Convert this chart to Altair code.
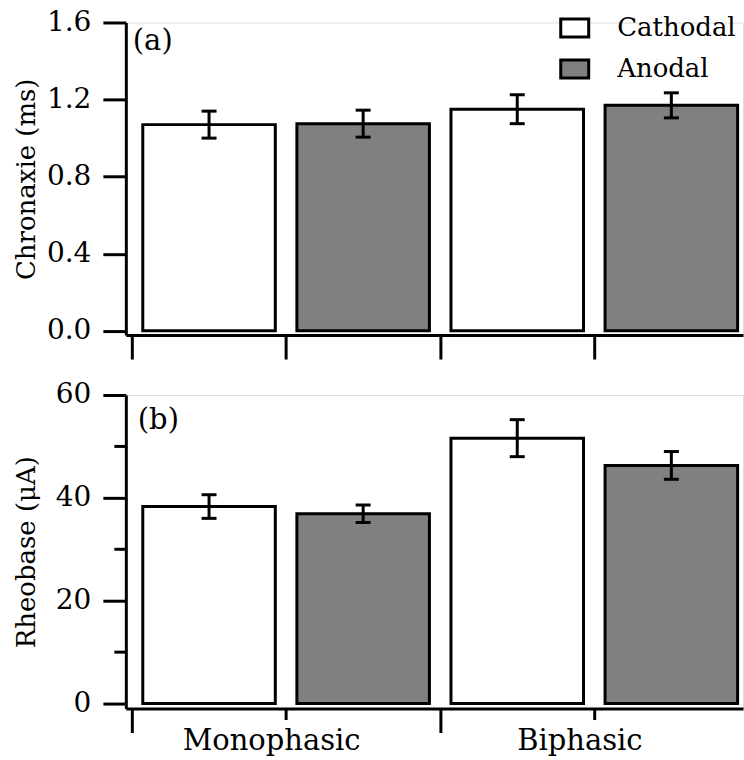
import altair as alt
import pandas as pd

# ---------------- data ----------------
groups = ["Monophasic", "Monophasic", "Biphasic", "Biphasic"]
polarity = ["Cathodal", "Anodal", "Cathodal", "Anodal"]
slot = [0, 1, 2, 3]
chronaxie_mean = [1.07, 1.075, 1.15, 1.17]
chronaxie_sem = [0.07, 0.07, 0.075, 0.065]
rheobase_mean = [38.3, 36.9, 51.6, 46.3]
rheobase_sem = [2.3, 1.7, 3.6, 2.7]
x_ticks = [0, 1, 2, 3]
chron_ticks = [0.0, 0.2, 0.4, 0.6, 0.8, 1.0, 1.2, 1.4, 1.6]
rheo_ticks = [0, 10, 20, 30, 40, 50, 60]
legend_order = ["Cathodal", "Anodal"]
legend_colors = ["white", "#808080"]

FONT = "DejaVu Serif"
GAP = 0.07


def make_df(mean, sem):
    return pd.DataFrame({
        "group": groups,
        "polarity": polarity,
        "x0": [s + GAP for s in slot],
        "x1": [s + 1 - GAP for s in slot],
        "xc": [s + 0.5 for s in slot],
        "mean": mean,
        "lo": [m - e for m, e in zip(mean, sem)],
        "hi": [m + e for m, e in zip(mean, sem)],
    })


xscale = alt.Scale(domain=[-0.04, 3.965], nice=False, zero=False)


def panel(df, ytitle, ydomain, yvalues, major_test, ylabel_expr, tag, tag_xy,
          bottom, show_legend, height, title_pad):
    yscale = alt.Scale(domain=ydomain, nice=False, zero=False)
    common = dict(domainColor="black", domainWidth=3, tickColor="black",
                  tickWidth=3, grid=False, labelColor="black", labelFont=FONT,
                  titleFont=FONT, titleColor="black")
    if bottom:
        xaxis = alt.Axis(values=x_ticks, title=None,
                         tickSize={"condition": {"test": "datum.value % 2 == 0", "value": 24}, "value": 11},
                         labelExpr="datum.value == 1 ? 'Monophasic' : (datum.value == 3 ? 'Biphasic' : '')",
                         labelFontSize=29, labelOffset=-15, labelPadding=7,
                         labelLimit=400, labelFlush=False, labelOverlap=False, **common)
    else:
        xaxis = alt.Axis(values=x_ticks, title=None, labels=False, tickSize=24, **common)
    yaxis = alt.Axis(values=yvalues, title=ytitle, titleFontSize=26,
                     titleFontWeight="normal", titlePadding=title_pad,
                     tickSize={"condition": {"test": major_test, "value": 23}, "value": 12},
                     labelExpr=ylabel_expr, labelFontSize=28, labelPadding=12,
                     labelFlush=False, labelOverlap=False, **common)

    if show_legend:
        legend = alt.Legend(title=None, orient="none", legendX=434, legendY=-10,
                            symbolType="M-1,-0.643H1V0.643H-1Z", symbolSize=784,
                            symbolStrokeColor="black", symbolStrokeWidth=3,
                            symbolOpacity=1, labelFont=FONT, labelFontSize=26,
                            labelColor="black", labelOffset=27, rowPadding=10,
                            padding=0, labelLimit=300)
    else:
        legend = None

    bars = alt.Chart(df).mark_bar(stroke="black", strokeWidth=3, strokeJoin="miter").encode(
        x=alt.X("x0:Q", scale=xscale, axis=xaxis),
        x2="x1:Q",
        y=alt.Y("mean:Q", scale=yscale, axis=yaxis),
        y2=alt.datum(0),
        color=alt.Color("polarity:N",
                        scale=alt.Scale(domain=legend_order, range=legend_colors),
                        legend=legend),
    )
    rule = alt.Chart(df).mark_rule(color="black", strokeWidth=3).encode(
        x="xc:Q", y="lo:Q", y2="hi:Q")
    cap_lo = alt.Chart(df).mark_tick(color="black", orient="horizontal", size=15,
                                     thickness=3, opacity=1).encode(x="xc:Q", y="lo:Q")
    cap_hi = alt.Chart(df).mark_tick(color="black", orient="horizontal", size=15,
                                     thickness=3, opacity=1).encode(x="xc:Q", y="hi:Q")
    label = alt.Chart(pd.DataFrame({"t": [tag]})).mark_text(
        font=FONT, fontSize=29, align="left", baseline="middle", color="black").encode(
        text="t:N", x=alt.value(tag_xy[0]), y=alt.value(tag_xy[1]))

    return alt.layer(bars, rule, cap_lo, cap_hi, label).properties(width=618, height=height)


top = panel(make_df(chronaxie_mean, chronaxie_sem), "Chronaxie (ms)", [-0.022, 1.6],
            chron_ticks, "round(datum.value*10) % 4 == 0",
            "round(datum.value*10) % 4 == 0 ? format(datum.value, '.1f') : ''",
            "(a)", (7, 19), False, True, 313, 7)
bottom = panel(make_df(rheobase_mean, rheobase_sem), "Rheobase (\u03bcA)", [-1, 60],
               rheo_ticks, "datum.value % 20 == 0",
               "datum.value % 20 == 0 ? datum.label : ''",
               "(b)", (12, 25), True, False, 314, 16)

chart = alt.vconcat(top, bottom, spacing=60, bounds="flush").resolve_scale(
    color="independent").resolve_legend(color="independent").properties(
    padding={"left": 12, "top": 7, "right": 0, "bottom": 0}
).configure_view(stroke="transparent", strokeWidth=0, strokeOpacity=0).configure(
    background="white")

chart.save("out.html", embed_options={"renderer": "svg", "actions": False})
